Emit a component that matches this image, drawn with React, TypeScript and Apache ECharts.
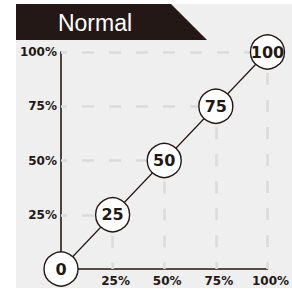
import React, { useEffect, useRef } from "react";
import * as echarts from "echarts";

const title = "Normal";
const inputPct = [0, 25, 50, 75, 100];
const outputPct = [0, 25, 50, 75, 100];
const pointLabels = ["0", "25", "50", "75", "100"];
const tickValues = [0, 25, 50, 75, 100];

const DARK = "#231815";
const GRAY_BG = "#efefef";
const DASH = "#dbdbdb";

export default function App() {
  const ref = useRef<HTMLDivElement>(null);
  useEffect(() => {
    if (!ref.current) return;
    const chart = echarts.init(ref.current, null, { renderer: "svg" });
    const data = inputPct.map((x, i) => ({ value: [x, outputPct[i]], name: pointLabels[i] }));
    const dropLines: any[] = [];
    inputPct.forEach((x, i) => {
      const y = outputPct[i];
      if (y > 0) dropLines.push([{ coord: [0, y] }, { coord: [x, y] }]);
      if (x > 0) dropLines.push([{ coord: [x, y] }, { coord: [x, 0] }]);
    });
    const fmt = (v: number) => (v === tickValues[0] ? "" : v + "%");
    chart.setOption({
      animation: false,
      graphic: [
        { type: "rect", z: -10, shape: { x: 16, y: 4, width: 276, height: 284 }, style: { fill: GRAY_BG } },
        {
          type: "polygon",
          z: -5,
          shape: { points: [[16, 4], [171, 4], [207, 40], [16, 40]] },
          style: { fill: DARK },
        },
        {
          type: "text",
          z: -4,
          x: 95,
          y: 23,
          style: {
            text: title,
            fill: "#ffffff",
            font: "23px 'Liberation Sans', Arial, sans-serif",
            align: "center",
            verticalAlign: "middle",
          },
        },
      ],
      grid: { left: 61, top: 52, right: 15, bottom: 20 },
      xAxis: {
        type: "value",
        min: 0,
        max: 100,
        interval: 25,
        axisLine: { lineStyle: { color: DARK, width: 1.6 } },
        axisTick: { show: false },
        splitLine: { show: false },
        axisLabel: {
          formatter: fmt,
          color: DARK,
          fontFamily: "DejaVu Sans",
          fontWeight: "bold",
          fontSize: 12,
          margin: 6,
          padding: [0, 0, 0, 6],
        },
      },
      yAxis: {
        type: "value",
        min: 0,
        max: 100,
        interval: 25,
        axisLine: { show: true, lineStyle: { color: DARK, width: 1.6 } },
        axisTick: { show: false },
        splitLine: { show: false },
        axisLabel: {
          formatter: fmt,
          color: DARK,
          fontFamily: "DejaVu Sans",
          fontWeight: "bold",
          fontSize: 12,
          margin: 4,
        },
      },
      series: [
        {
          type: "scatter",
          data: [],
          z: 1,
          silent: true,
          markLine: {
            silent: true,
            symbol: "none",
            label: { show: false },
            lineStyle: { type: [12, 15], dashOffset: 6, color: DASH, width: 2.6 },
            data: dropLines,
          },
        },
        {
          type: "line",
          z: 5,
          clip: false,
          data,
          symbol: "circle",
          symbolSize: 34,
          lineStyle: { color: DARK, width: 1.2 },
          itemStyle: { color: "#ffffff", borderColor: DARK, borderWidth: 1.4 },
          label: {
            show: true,
            position: "inside",
            formatter: (p: any) => p.name,
            color: DARK,
            fontFamily: "DejaVu Sans",
            fontWeight: "bold",
            fontSize: 16,
          },
        },
      ],
    });
    return () => chart.dispose();
  }, []);
  return (
    <div
      ref={ref}
      style={{ position: "fixed", left: 0, top: 0, width: 292, height: 289, background: "#ffffff" }}
    />
  );
}
